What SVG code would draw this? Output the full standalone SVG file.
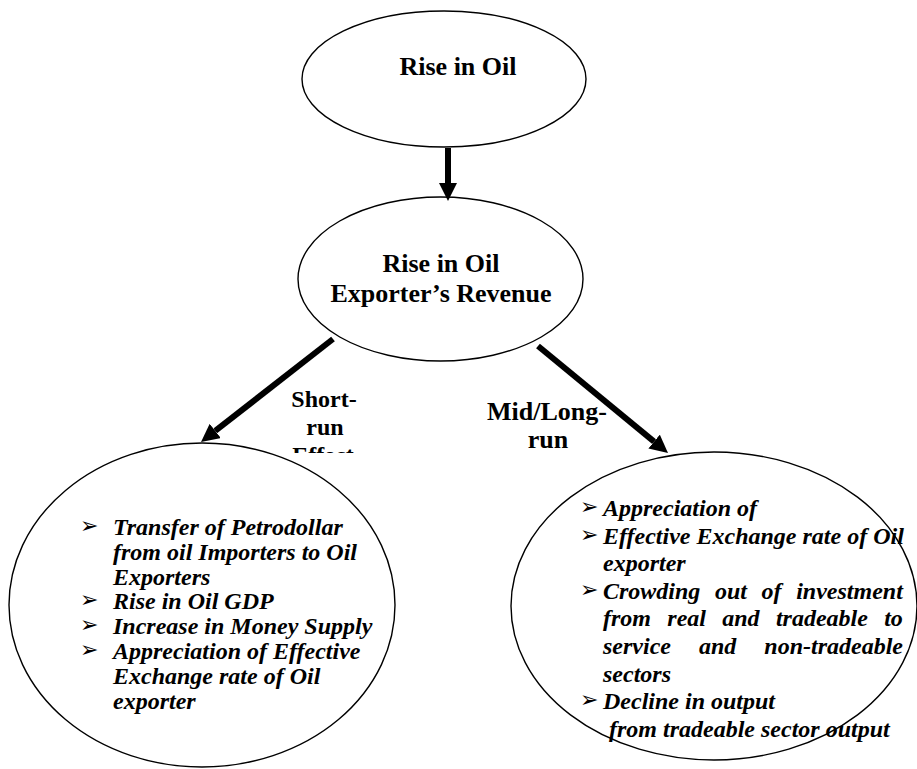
<svg xmlns="http://www.w3.org/2000/svg" width="917" height="769" viewBox="0 0 917 769">
<style>
  .node { fill: none; stroke: #000; stroke-width: 1.4; }
  text { font-family: 'Liberation Serif', Tinos, 'Times New Roman', 'DejaVu Serif', serif; fill: #000; }
  .title { font-weight: bold; font-size: 26px; text-anchor: middle; }
  .lbl { font-weight: bold; text-anchor: middle; }
  .item { font-weight: bold; font-style: italic; font-size: 24px; }
  text.bul { font-family: 'DejaVu Sans', sans-serif; font-size: 22px; }
  .conn { stroke: #000; stroke-width: 6; fill: none; }
</style>
<defs>
  <marker id="ah" viewBox="0 -9 18 18" refX="0" refY="0" markerWidth="18" markerHeight="18" markerUnits="userSpaceOnUse" orient="auto">
    <path d="M0,-9 L18,0 L0,9 z" fill="#000"/>
  </marker>
  <clipPath id="clipEffect"><rect x="250" y="380" width="150" height="73"/></clipPath>
</defs>
<rect width="917" height="769" fill="#fff"/>

<g id="connectors">
  <line class="conn" x1="448" y1="148" x2="448" y2="183" marker-end="url(#ah)"/>
  <line class="conn" x1="333" y1="339" x2="215.2" y2="430.9" marker-end="url(#ah)"/>
  <line class="conn" x1="538" y1="346" x2="654.1" y2="441.6" marker-end="url(#ah)"/>
  <g id="label-short">
    <text class="lbl" font-size="24" x="324" y="407">Short-</text>
    <text class="lbl" font-size="24" x="325" y="435">run</text>
    <text class="lbl" font-size="24" x="323" y="463" clip-path="url(#clipEffect)">Effect</text>
  </g>
  <g id="label-long">
    <text class="lbl" font-size="26" x="547" y="420">Mid/Long-</text>
    <text class="lbl" font-size="26" x="548" y="448">run</text>
  </g>
</g>

<g id="node-rise-oil">
  <ellipse class="node" cx="444" cy="79" rx="142" ry="68"/>
  <text class="title" x="458" y="75">Rise in Oil</text>
</g>

<g id="node-revenue">
  <ellipse class="node" cx="440.5" cy="279" rx="142.5" ry="82"/>
  <text class="title" x="441" y="272">Rise in Oil</text>
  <text class="title" x="441" y="302">Exporter’s Revenue</text>
</g>

<g id="node-short-run">
  <ellipse class="node" cx="202" cy="605" rx="193" ry="162"/>
  <text class="bul" x="80" y="533">➢</text>
  <text class="item" x="113" y="535">Transfer of Petrodollar</text>
  <text class="item" x="113" y="559.8">from oil Importers to Oil</text>
  <text class="item" x="113" y="584.6">Exporters</text>
  <text class="bul" x="80" y="607.4">➢</text>
  <text class="item" x="113" y="609.4">Rise in Oil GDP</text>
  <text class="bul" x="80" y="632.2">➢</text>
  <text class="item" x="113" y="634.2">Increase in Money Supply</text>
  <text class="bul" x="80" y="657">➢</text>
  <text class="item" x="113" y="659">Appreciation of Effective</text>
  <text class="item" x="113" y="683.8">Exchange rate of Oil</text>
  <text class="item" x="113" y="708.6">exporter</text>
</g>

<g id="node-long-run">
  <ellipse class="node" cx="714" cy="606" rx="203" ry="154"/>
  <text class="bul" x="580" y="514">➢</text>
  <text class="item" x="603" y="516">Appreciation of</text>
  <text class="bul" x="580" y="541.6">➢</text>
  <text class="item" x="603" y="543.6">Effective Exchange rate of Oil</text>
  <text class="item" x="603" y="571.2">exporter</text>
  <text class="bul" x="580" y="596.8">➢</text>
  <text class="item" x="603" y="598.8" style="word-spacing:8.6px">Crowding out of investment</text>
  <text class="item" x="603" y="626.4" style="word-spacing:10.3px">from real and tradeable to</text>
  <text class="item" x="603" y="654" style="word-spacing:22px">service and non-tradeable</text>
  <text class="item" x="603" y="681.6">sectors</text>
  <text class="bul" x="580" y="707.2">➢</text>
  <text class="item" x="603" y="709.2">Decline in output</text>
  <text class="item" x="609" y="736.8">from tradeable sector output</text>
</g>
</svg>
